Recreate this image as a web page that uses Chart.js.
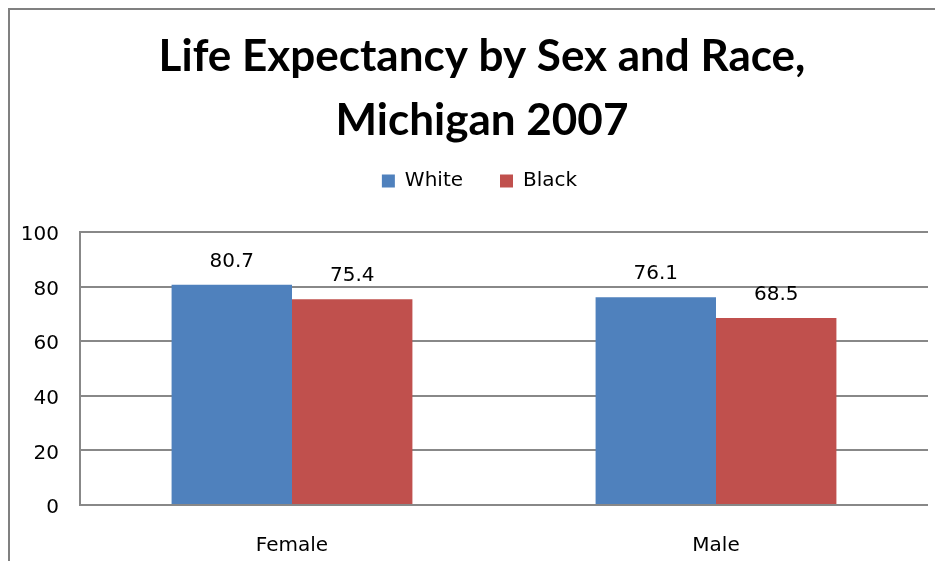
<!DOCTYPE html>
<html><head><meta charset="utf-8">
<script src="https://cdn.jsdelivr.net/npm/chart.js@4/dist/chart.umd.min.js"></script>
<style>html,body{margin:0;padding:0;background:#fff;overflow:hidden;}</style>
</head><body>
<canvas id="c" width="935" height="561" style="display:block;width:935px;height:561px"></canvas>
<script>
const categories = ['Female', 'Male'];
const seriesNames = ['White', 'Black'];
const whiteValues = [80.7, 76.1];
const blackValues = [75.4, 68.5];
const yTicks = [0, 20, 40, 60, 80, 100];
const titleLines = ['Life Expectancy by Sex and Race,', 'Michigan 2007'];

const BODY_FONT = "'DejaVu Sans', Verdana, sans-serif";
const GRID = '#888888';

const frame = {
  id: 'frame',
  beforeDraw(chart) {
    const ctx = chart.ctx;
    ctx.save();
    ctx.fillStyle = '#ffffff';
    ctx.fillRect(0, 0, chart.width, chart.height);
    ctx.strokeStyle = '#808080';
    ctx.lineWidth = 2;
    ctx.strokeRect(9, 9, 2000, 2000);
    ctx.restore();
  }
};

const layoutTweaks = {
  id: 'layoutTweaks',
  beforeLayout(chart) {
    const t = chart.titleBlock, l = chart.legend;
    if (t && !t._patched) {
      const u = t.update;
      t.update = function (...a) { u.apply(this, a); this.height = 134; };
      t._patched = true;
    }
    if (l && !l._patched) {
      const u = l.update;
      l.update = function (...a) { u.apply(this, a); this.height += 31; };
      l._patched = true;
    }
  },
  afterLayout(chart) {
    if (chart.titleBlock) chart.titleBlock.left = 36;
    if (chart.legend) chart.legend.left = 31;
  }
};

const valueLabels = {
  id: 'valueLabels',
  afterDatasetsDraw(chart) {
    const ctx = chart.ctx;
    ctx.save();
    ctx.font = '20px ' + BODY_FONT;
    ctx.fillStyle = '#000';
    ctx.textAlign = 'center';
    ctx.textBaseline = 'alphabetic';
    chart.data.datasets.forEach((ds, i) => {
      chart.getDatasetMeta(i).data.forEach((bar, j) => {
        ctx.fillText(ds.data[j].toFixed(1), bar.x, bar.y - 18);
      });
    });
    ctx.restore();
  }
};

new Chart(document.getElementById('c'), {
  type: 'bar',
  data: {
    labels: categories,
    datasets: [
      { label: seriesNames[0], data: whiteValues, backgroundColor: '#4F81BD', borderWidth: 0 },
      { label: seriesNames[1], data: blackValues, backgroundColor: '#C0504D', borderWidth: 0 }
    ]
  },
  options: {
    responsive: false,
    animation: false,
    devicePixelRatio: 1,
    layout: { padding: { left: 14, right: 7, top: 0, bottom: 0 } },
    datasets: { bar: { categoryPercentage: 0.568, barPercentage: 1 } },
    plugins: {
      title: {
        display: true,
        text: titleLines,
        color: '#000',
        font: { family: "Lato, 'Open Sans', sans-serif", size: 44, weight: 'bold', lineHeight: '64px' },
        padding: { top: 25, bottom: 0 }
      },
      legend: {
        display: true,
        position: 'top',
        labels: {
          color: '#000',
          font: { family: BODY_FONT, size: 20 },
          boxWidth: 13,
          boxHeight: 13,
          padding: 37
        }
      },
      tooltip: { enabled: false }
    },
    scales: {
      x: {
        grid: { display: false, drawTicks: false },
        border: { display: false },
        ticks: { color: '#000', font: { family: BODY_FONT, size: 20 }, padding: 29, maxRotation: 0 },
        afterFit(s) { s.height = 56; }
      },
      y: {
        min: 0, max: 100,
        afterBuildTicks(s) { s.ticks = yTicks.map(v => ({ value: v })); },
        grid: { color: GRID, lineWidth: 2, drawTicks: false },
        border: { display: true, color: GRID, width: 2 },
        ticks: { color: '#000', font: { family: BODY_FONT, size: 20 }, padding: 21, labelOffset: 3 },
        afterFit(s) { s.width = 66; }
      }
    }
  },
  plugins: [frame, layoutTweaks, valueLabels]
});
</script>
</body></html>
